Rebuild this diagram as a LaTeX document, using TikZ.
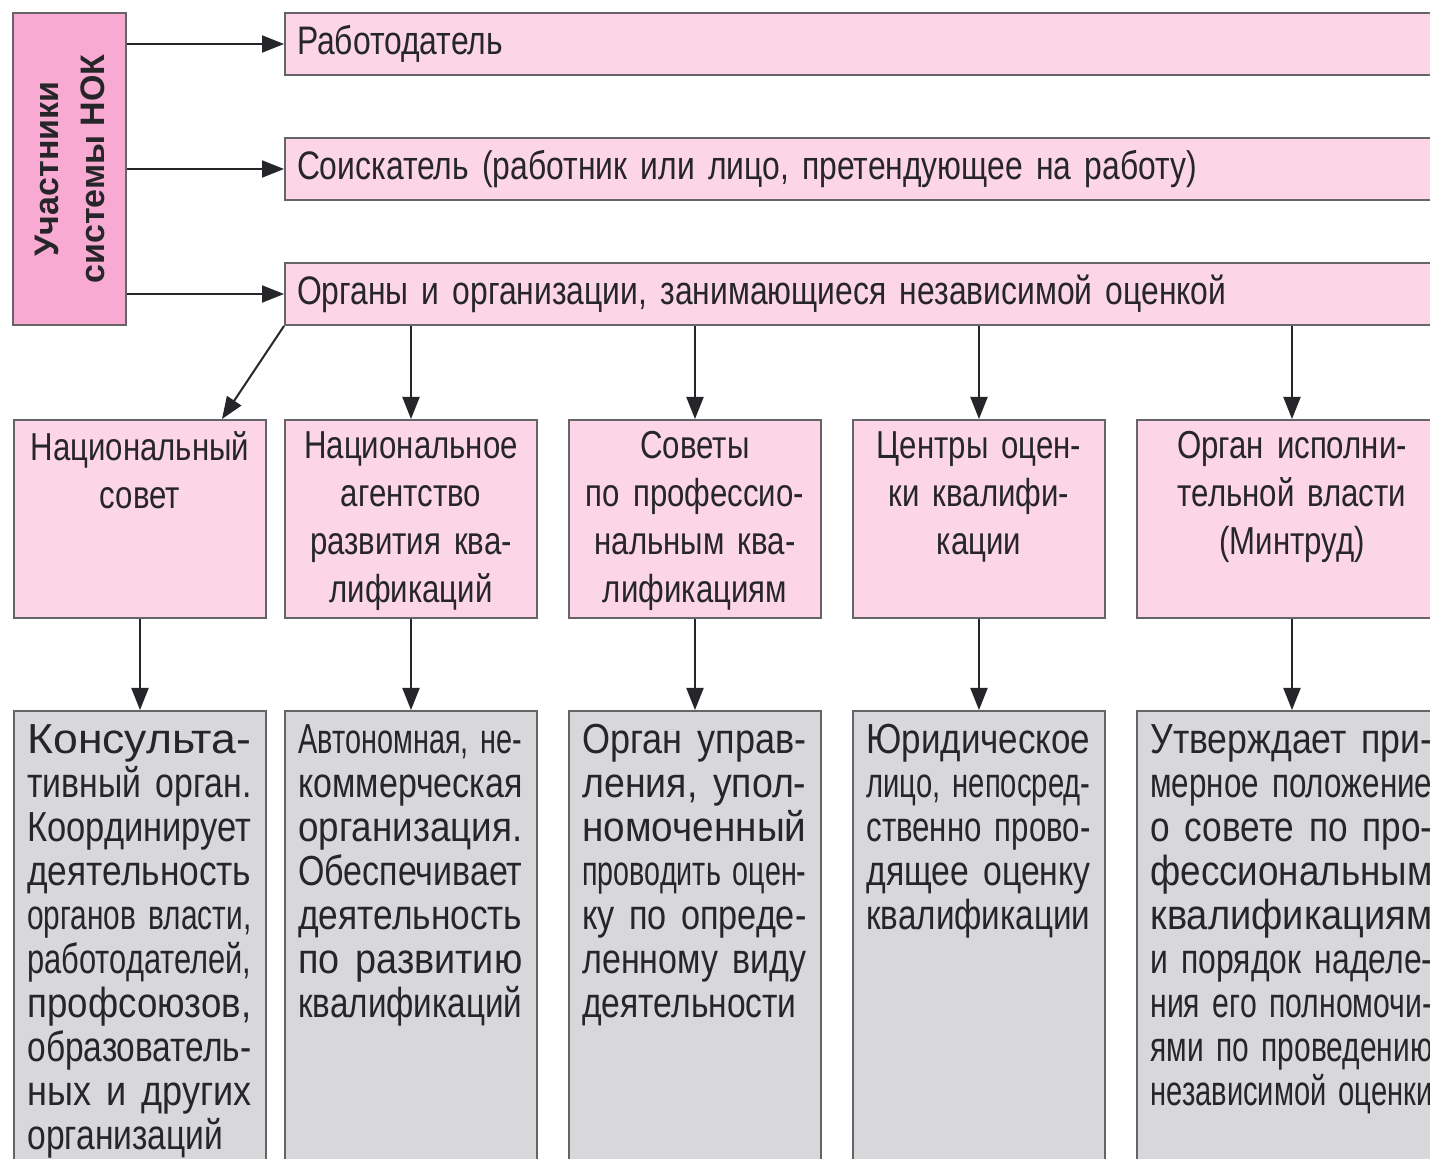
\documentclass[tikz,border=0pt]{standalone}
\usepackage{fontspec}
\setmainfont[FakeStretch=0.8]{Liberation Sans}
\newfontfamily\nokfont{Liberation Sans}
\usepackage{graphicx}
\usetikzlibrary{arrows.meta,positioning}
\definecolor{nokpink}{RGB}{249,170,210}
\definecolor{lightpink}{RGB}{252,214,231}
\definecolor{boxgray}{RGB}{216,216,219}
\definecolor{edgegray}{RGB}{100,100,105}
\definecolor{inkgray}{RGB}{38,38,42}
\newcommand\fitline[1]{\resizebox{\hsize}{\height}{#1}\par}

\begin{document}
\begin{tikzpicture}[x=0.5pt,y=-0.5pt,
    every node/.style={text=inkgray},
    arr/.style={draw=inkgray,line width=1pt,-{Triangle[length=11pt,width=8.5pt]}},
    nokbox/.style={draw=edgegray,line width=1pt,fill=nokpink,minimum width=156pt,minimum height=56.5pt,align=center,font=\nokfont\bfseries\fontsize{17}{23}\selectfont},
    rowbox/.style={draw=edgegray,line width=1pt,fill=lightpink,anchor=west,minimum height=31pt,text width=600pt,inner xsep=6pt,align=left,font=\fontsize{19.9}{23.5}\selectfont},
    midbox/.style={draw=edgegray,line width=1pt,fill=lightpink,anchor=north west,minimum width=126pt,minimum height=99pt},
    midtxt/.style={anchor=north,text width=112pt,inner sep=6pt,align=center,font=\fontsize{19.5}{24}\selectfont},
    lowbox/.style={draw=edgegray,line width=1pt,fill=boxgray,anchor=north west,minimum width=126pt,minimum height=250pt},
    lowtxt/.style={anchor=north west,text width=112pt,inner xsep=7pt,inner ysep=7pt,align=left,font=\fontsize{21}{22}\selectfont}]
\useasboundingbox (0,0) rectangle (1430,1159);
\clip (0,0) rectangle (1430,1159);

% participants
\node[nokbox,rotate=90] (nok) at (69.5,169) {Участники\\системы НОК};
\node[rowbox] (emp) at (284,44) {Работодатель};
\node[rowbox] (app) at (284,169) {Соискатель (работник или лицо, претендующее на работу)};
\node[rowbox] (org) at (284,294) {Органы и организации, занимающиеся независимой оценкой};
\draw[arr] (emp.west -| nok.south) -- (emp.west);
\draw[arr] (app.west -| nok.south) -- (app.west);
\draw[arr] (org.west -| nok.south) -- (org.west);

% bodies
\node[midbox] (nc) at (13,419) {};
\node[midbox] (na) at (284,419) {};
\node[midbox] (sp) at (568,419) {};
\node[midbox] (co) at (852,419) {};
\node[midbox,minimum width=155pt] (mt) at (1136,419) {};
\node[midtxt] (nc-t) at (nc.north) {Национальный\\совет};
\node[midtxt] (na-t) at (na.north) {Национальное\\агентство\\развития ква-\\лификаций};
\node[midtxt] (sp-t) at (sp.north) {Советы\\по профессио-\\нальным ква-\\лификациям};
\node[midtxt] (co-t) at (co.north) {Центры оцен-\\ки квалифи-\\кации};
\node[midtxt,text width=140pt] (mt-t) at (mt.north) {Орган исполни-\\тельной власти\\(Минтруд)};
\draw[arr] (org.south west) -- ([xshift=41pt]nc.north);
\draw[arr] (org.south -| na.north) -- (na.north);
\draw[arr] (org.south -| sp.north) -- (sp.north);
\draw[arr] (org.south -| co.north) -- (co.north);
\draw[arr] (org.south -| mt.north) -- (mt.north);

% roles
\node[lowbox] (ncd) at (13,710) {};
\node[lowbox] (nad) at (284,710) {};
\node[lowbox] (spd) at (568,710) {};
\node[lowbox] (cod) at (852,710) {};
\node[lowbox,minimum width=155pt] (mtd) at (1136,710) {};
\node[lowtxt] (ncd-t) at (ncd.north west) {\fitline{Консульта-}\fitline{тивный орган.}\fitline{Координирует}\fitline{деятельность}\fitline{органов власти,}\fitline{работодателей,}\fitline{профсоюзов,}\fitline{образователь-}\fitline{ных и других}организаций};
\node[lowtxt] (nad-t) at (nad.north west) {\fitline{Автономная, не-}\fitline{коммерческая}\fitline{организация.}\fitline{Обеспечивает}\fitline{деятельность}\fitline{по развитию}\fitline{квалификаций}};
\node[lowtxt] (spd-t) at (spd.north west) {\fitline{Орган управ-}\fitline{ления, упол-}\fitline{номоченный}\fitline{проводить оцен-}\fitline{ку по опреде-}\fitline{ленному виду}деятельности};
\node[lowtxt] (cod-t) at (cod.north west) {\fitline{Юридическое}\fitline{лицо, непосред-}\fitline{ственно прово-}\fitline{дящее оценку}\fitline{квалификации}};
\node[lowtxt,text width=141pt] (mtd-t) at (mtd.north west) {\fitline{Утверждает при-}\fitline{мерное положение}\fitline{о совете по про-}\fitline{фессиональным}\fitline{квалификациям}\fitline{и порядок наделе-}\fitline{ния его полномочи-}\fitline{ями по проведению}\fitline{независимой оценки}};
\draw[arr] (nc.south) -- (ncd.north);
\draw[arr] (na.south) -- (nad.north);
\draw[arr] (sp.south) -- (spd.north);
\draw[arr] (co.south) -- (cod.north);
\draw[arr] (mt.south) -- (mtd.north);
\end{tikzpicture}
\end{document}
